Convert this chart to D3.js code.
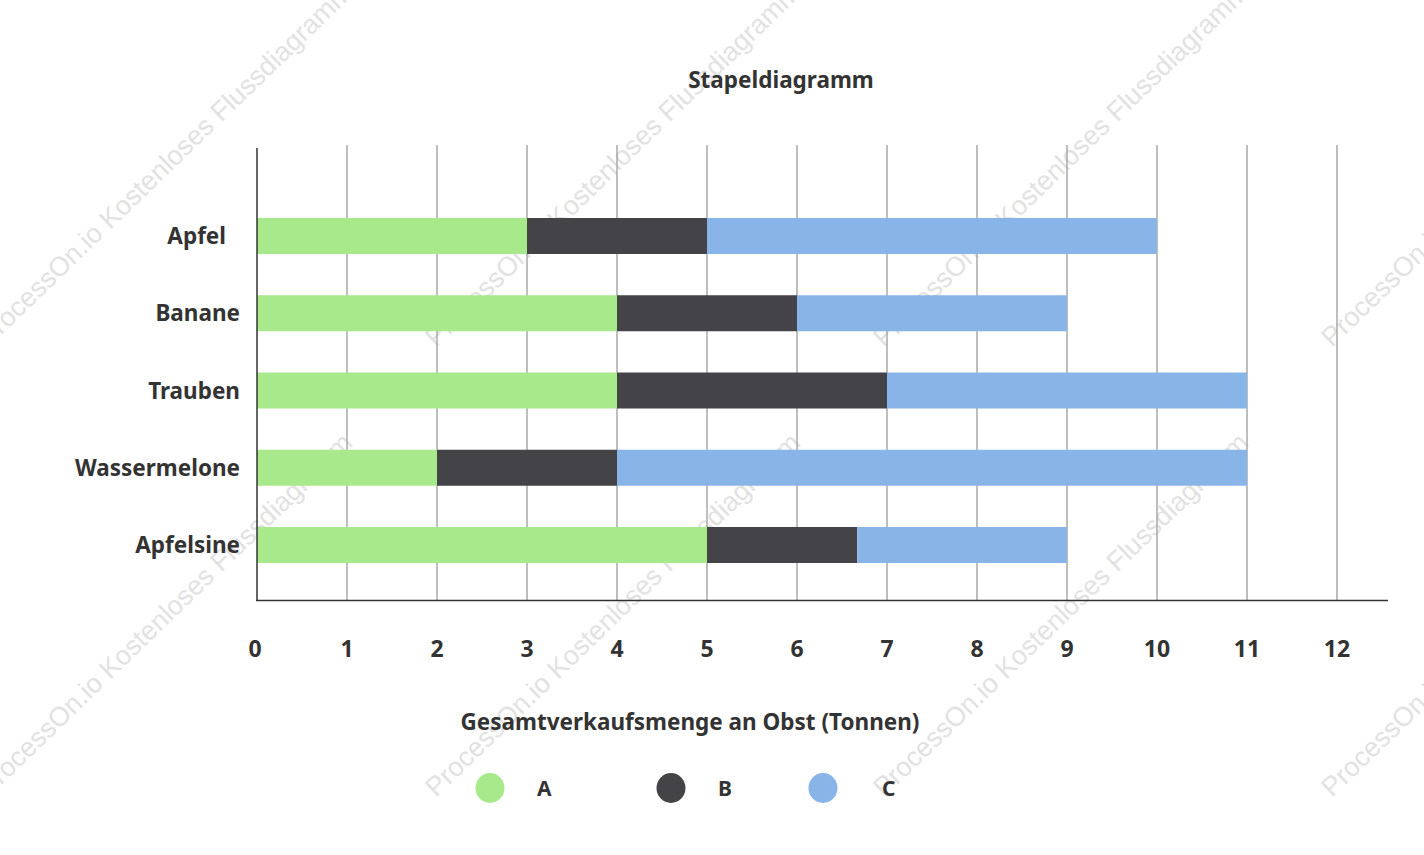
<!DOCTYPE html>
<html>
<head>
<meta charset="utf-8">
<script src="https://cdn.jsdelivr.net/npm/d3@7"></script>
<style>
  body { margin: 0; background: #fff; }
  svg { display: block; font-family: "Noto Sans", "Open Sans", sans-serif; }
</style>
</head>
<body>
<div id="chart"></div>
<script>
/* Stapeldiagramm — horizontal stacked bars */

const categories = ['Apfel', 'Banane', 'Trauben', 'Wassermelone', 'Apfelsine'];
const seriesKeys = ['A', 'B', 'C'];
const valuesA = [3, 4, 4, 2, 5];
const valuesB = [2, 2, 3, 2, 1.67];
const valuesC = [5, 3, 4, 7, 2.33];
const xTicks = [0, 1, 2, 3, 4, 5, 6, 7, 8, 9, 10, 11, 12];

const COLORS = { A: '#a8e98b', B: '#444348', C: '#89b4e8' };
const TEXT = '#333';

const W = 1424, H = 855;
const svg = d3.select('#chart').append('svg')
  .attr('width', W).attr('height', H);

/* faint watermark, behind everything */
const wm = svg.append('g').attr('fill', '#e2e2e2').attr('font-size', 27)
  .attr('font-family', 'Liberation Sans, sans-serif');
[348, 798].forEach(rowY => {
  [-12, 436, 884, 1332].forEach(col => {
    wm.append('text')
      .attr('transform', `translate(${col},${rowY}) rotate(-44)`)
      .text('ProcessOn.io Kostenloses Flussdiagramm');
  });
});

const x = d3.scaleLinear().domain([0, 12]).range([257, 1337]);
const y = d3.scalePoint().domain(categories).range([236, 545]);
const barH = 36;

/* grid lines */
svg.append('g')
  .selectAll('line')
  .data(xTicks.slice(1))
  .join('line')
  .attr('x1', d => x(d)).attr('x2', d => x(d))
  .attr('y1', 145).attr('y2', 600)
  .attr('stroke', '#a8a8a8').attr('stroke-width', 1.5);

/* stacked bars */
const rows = categories.map((c, i) => ({ cat: c, A: valuesA[i], B: valuesB[i], C: valuesC[i] }));
const stack = d3.stack().keys(seriesKeys)(rows);

svg.append('g')
  .selectAll('g')
  .data(stack)
  .join('g')
  .attr('fill', d => COLORS[d.key])
  .selectAll('rect')
  .data(d => d)
  .join('rect')
  .attr('x', d => x(d[0]))
  .attr('width', d => x(d[1]) - x(d[0]))
  .attr('y', d => y(d.data.cat) - barH / 2)
  .attr('height', barH);

/* axis lines */
svg.append('line')
  .attr('x1', 257).attr('x2', 257).attr('y1', 148).attr('y2', 601)
  .attr('stroke', TEXT).attr('stroke-width', 1.5);
svg.append('line')
  .attr('x1', 256).attr('x2', 1388).attr('y1', 600.5).attr('y2', 600.5)
  .attr('stroke', TEXT).attr('stroke-width', 1.5);

/* tick labels */
svg.append('g')
  .selectAll('text')
  .data(xTicks)
  .join('text')
  .attr('x', d => x(d) - (d === 0 ? 2 : 0))
  .attr('y', 657)
  .attr('text-anchor', 'middle')
  .attr('font-size', 23).attr('font-weight', 700).attr('fill', TEXT)
  .text(d => d);

/* category labels */
svg.append('g')
  .selectAll('text')
  .data(categories)
  .join('text')
  .attr('x', d => d === 'Apfel' ? 226 : 240)
  .attr('y', d => y(d) + 8)
  .attr('text-anchor', 'end')
  .attr('font-size', 22.5).attr('font-weight', 700).attr('fill', TEXT)
  .text(d => d);

/* title & axis title */
svg.append('text')
  .attr('x', 781).attr('y', 88)
  .attr('text-anchor', 'middle')
  .attr('font-size', 22.5).attr('font-weight', 700).attr('fill', TEXT)
  .text('Stapeldiagramm');

svg.append('text')
  .attr('x', 690).attr('y', 730)
  .attr('text-anchor', 'middle')
  .attr('font-size', 22.5).attr('font-weight', 700).attr('fill', TEXT)
  .text('Gesamtverkaufsmenge an Obst (Tonnen)');

/* legend */
const legendPos = [{ cx: 490, tx: 537 }, { cx: 671, tx: 718 }, { cx: 823, tx: 882 }];
const lg = svg.append('g');
seriesKeys.forEach((k, i) => {
  lg.append('ellipse')
    .attr('cx', legendPos[i].cx).attr('cy', 788)
    .attr('rx', 14.5).attr('ry', 15)
    .attr('fill', COLORS[k]);
  lg.append('text')
    .attr('x', legendPos[i].tx).attr('y', 796)
    .attr('font-size', 21).attr('font-weight', 700).attr('fill', TEXT)
    .text(k);
});
</script>
</body>
</html>
